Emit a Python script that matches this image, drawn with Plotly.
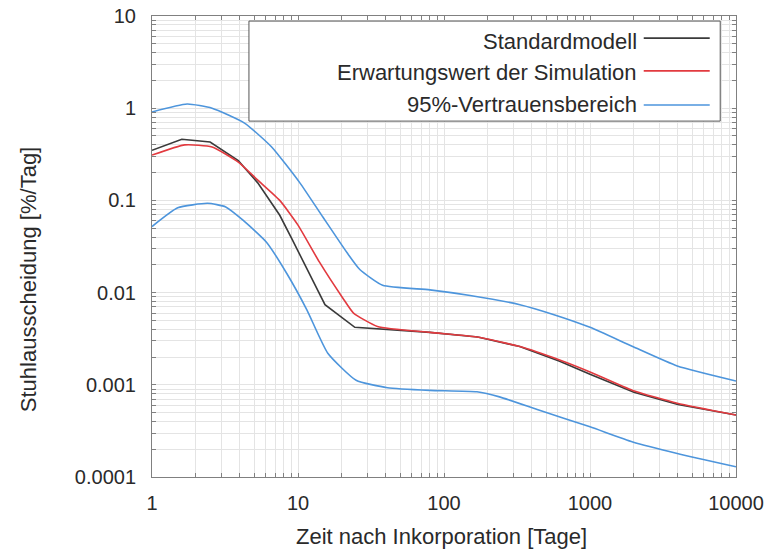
import plotly.graph_objects as go

# Standardmodell (black)
x_std = [1, 1.6, 2.5, 3.9, 5.3, 7.5, 9.1, 12.6, 15.3, 24.5, 40, 80, 170, 330, 620, 1000, 2000, 4000, 10000]
y_std = [0.35, 0.46, 0.43, 0.27, 0.155, 0.069, 0.038, 0.0138, 0.0074, 0.0042, 0.0040, 0.0037, 0.0033,
         0.0026, 0.00180, 0.00130, 0.00083, 0.00061, 0.00047]

# Erwartungswert der Simulation (red)
x_sim = [1, 1.68, 2.58, 3.9, 5.3, 7.5, 10, 14, 20.3, 24, 35, 80, 168, 331, 620, 1000, 1960, 3960, 10000]
y_sim = [0.31, 0.40, 0.38, 0.26, 0.166, 0.10, 0.054, 0.0215, 0.0087, 0.006, 0.0043, 0.0037, 0.0033,
         0.0026, 0.00186, 0.00138, 0.00087, 0.00063, 0.00047]

# 95%-Vertrauensbereich upper (blue)
x_up = [1, 1.74, 2.58, 4.3, 6.6, 10.3, 14.8, 21.7, 26.5, 38, 80, 151, 331, 560, 1000, 1960, 3960, 10000]
y_up = [0.91, 1.11, 1.0, 0.69, 0.38, 0.155, 0.066, 0.027, 0.0178, 0.012, 0.0107, 0.0093,
        0.0074, 0.0058, 0.0042, 0.0026, 0.0016, 0.0011]

# 95%-Vertrauensbereich lower (blue)
x_lo = [1, 1.5, 2.4, 3.2, 4.2, 6.1, 8.4, 11.5, 16, 25, 41, 80, 168, 240, 435, 1000, 1960, 3960, 10000]
y_lo = [0.052, 0.083, 0.093, 0.085, 0.061, 0.035, 0.016, 0.0065, 0.0022, 0.00112, 0.00093, 0.00087,
        0.00084, 0.00074, 0.00054, 0.00035, 0.00024, 0.00018, 0.000129]

x_major = [1, 10, 100, 1000, 10000]
x_labels = ["1", "10", "100", "1000", "10000"]
y_major = [0.0001, 0.001, 0.01, 0.1, 1, 10]
y_labels = ["0.0001", "0.001", "0.01", "0.1", "1", "10"]

legend_names = ["Standardmodell", "Erwartungswert der Simulation", "95%-Vertrauensbereich"]
x_title = "Zeit nach Inkorporation [Tage]"
y_title = "Stuhlausscheidung [%/Tag]"

C_STD = "#3a3a3a"
C_SIM = "#e23a3f"
C_CI = "#4d95dc"
TXT = "#2a2a2a"
FONT = "Liberation Sans, Arial, sans-serif"

fig = go.Figure()
spl = dict(shape="spline", smoothing=0.5)
fig.add_trace(go.Scatter(x=x_up, y=y_up, mode="lines", line=dict(color=C_CI, width=1.6, **spl),
                         name=legend_names[2]))
fig.add_trace(go.Scatter(x=x_lo, y=y_lo, mode="lines", line=dict(color=C_CI, width=1.6, **spl),
                         name=legend_names[2]))
fig.add_trace(go.Scatter(x=x_std, y=y_std, mode="lines", line=dict(color=C_STD, width=1.6),
                         name=legend_names[0]))
fig.add_trace(go.Scatter(x=x_sim, y=y_sim, mode="lines", line=dict(color=C_SIM, width=1.6, **spl),
                         name=legend_names[1]))


def all_ticks(lo_exp, hi_exp):
    vals = []
    for e in range(lo_exp, hi_exp):
        for m in range(1, 10):
            vals.append(m * 10.0 ** e)
    vals.append(10.0 ** hi_exp)
    return vals


def labels(vals, majors, majlabels):
    out = []
    for v in vals:
        lab = ""
        for mv, ml in zip(majors, majlabels):
            if abs(v - mv) / mv < 1e-9:
                lab = ml
        out.append(lab)
    return out


xt = all_ticks(0, 4)
yt = all_ticks(-4, 1)

common = dict(type="log", ticks="inside", ticklen=4, tickcolor="#808080", mirror="ticks", showline=True,
              linecolor="#808080", linewidth=1, showgrid=True, gridcolor="#e4e4e4", gridwidth=1,
              zeroline=False, automargin=False, ticklabeloverflow="allow",
              tickfont=dict(size=20, color=TXT, family=FONT))
fig.update_xaxes(range=[0, 4], tickvals=xt, ticktext=labels(xt, x_major, x_labels),
                 ticklabelstandoff=8, **common)
fig.update_yaxes(range=[-4, 1], tickvals=yt, ticktext=labels(yt, y_major, y_labels),
                 ticklabelstandoff=11, **common)

# custom legend box (text right-aligned, line sample on the right)
shapes = [dict(type="rect", xref="paper", yref="paper", x0=0.166, x1=0.973, y0=0.772, y1=0.989,
               fillcolor="white", line=dict(color="#555", width=1), layer="above")]
text_y = [0.944, 0.877, 0.808]
line_y = [0.952, 0.881, 0.807]
cols = [C_STD, C_SIM, C_CI]
annotations = []
for name, ty, ly, c in zip(legend_names, text_y, line_y, cols):
    shapes.append(dict(type="line", xref="paper", yref="paper", x0=0.842, x1=0.955, y0=ly, y1=ly,
                       line=dict(color=c, width=1.6), layer="above"))
    annotations.append(dict(xref="paper", yref="paper", x=0.834, y=ty, text=name, showarrow=False,
                            xanchor="right", yanchor="middle", font=dict(size=22, color=TXT, family=FONT)))

# axis titles
annotations.append(dict(xref="paper", yref="paper", x=0.495, y=-0.130, text=x_title, showarrow=False,
                        xanchor="center", yanchor="middle", font=dict(size=22, color=TXT, family=FONT)))
annotations.append(dict(xref="paper", yref="paper", x=-0.2123, y=0.427, text=y_title, showarrow=False,
                        textangle=-90, xanchor="center", yanchor="middle",
                        font=dict(size=22, color=TXT, family=FONT)))

fig.update_layout(width=767, height=551, margin=dict(l=152, r=31, t=16, b=74),
                  plot_bgcolor="white", paper_bgcolor="white", showlegend=False,
                  shapes=shapes, annotations=annotations)

fig.write_html("out.html", config={"displayModeBar": False},
               post_script="document.body.style.margin='0px';")
